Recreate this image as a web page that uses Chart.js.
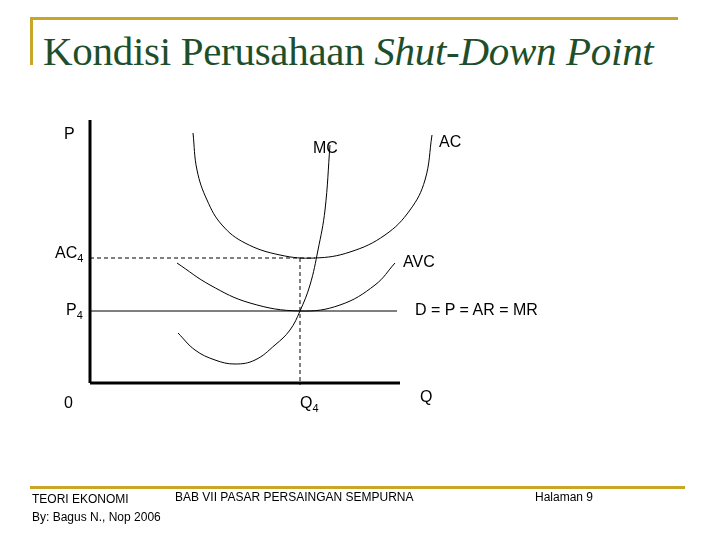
<!DOCTYPE html>
<html><head><meta charset="utf-8">
<script src="https://cdn.jsdelivr.net/npm/chart.js@4/dist/chart.umd.min.js"></script>
<style>
body{margin:0;width:720px;height:540px;overflow:hidden;background:#fff;position:relative;font-family:"Liberation Sans",Arial,sans-serif}
#c{position:absolute;left:0;top:0}
.t{position:absolute;font-size:16px;color:#000;white-space:nowrap}
.g{position:absolute;background:#c8a628}
</style></head><body>
<div class="g" style="left:30px;top:17px;width:648px;height:3px"></div>
<div class="g" style="left:30px;top:17px;width:3px;height:48px"></div>
<div class="g" style="left:30px;top:486px;width:655px;height:3px"></div>
<div style="position:absolute;left:43px;top:27px;font-family:'Liberation Serif',serif;font-size:41px;color:#1e4f2a;white-space:nowrap;letter-spacing:-0.3px">Kondisi Perusahaan <i>Shut-Down Point</i></div>
<canvas id="c" width="720" height="540"></canvas>
<div class="t" style="left:64px;top:125px">P</div>
<div class="t" style="left:313px;top:139px">MC</div>
<div class="t" style="left:439px;top:133px">AC</div>
<div class="t" style="left:55px;top:244px">AC<sub style="font-size:11px">4</sub></div>
<div class="t" style="left:403px;top:253px">AVC</div>
<div class="t" style="left:66px;top:301px">P<sub style="font-size:11px">4</sub></div>
<div class="t" style="left:415px;top:301px">D = P = AR = MR</div>
<div class="t" style="left:64px;top:394px">0</div>
<div class="t" style="left:300px;top:394px">Q<sub style="font-size:11px">4</sub></div>
<div class="t" style="left:420px;top:388px">Q</div>
<div class="t" style="left:32px;top:490px;font-size:12px;line-height:18px">TEORI EKONOMI<br>By: Bagus N., Nop 2006</div>
<div class="t" style="left:175px;top:490px;font-size:12px">BAB VII PASAR PERSAINGAN SEMPURNA</div>
<div class="t" style="left:535px;top:490px;font-size:12px">Halaman 9</div>
<script>
const acCurve=[[103,250],[107,213],[117,183],[132,158],[155,140],[190,128],[225,125],[260,131],[295,148],[320,173],[335,203],[342,248]];
const avcCurve=[[87,120],[120,98],[160,80],[210,72],[250,78],[285,98],[305,120]];
const mcCurve=[[88,50],[105,33],[125,23],[145,19],[165,23],[185,38],[200,53],[210,72],[220,98],[228,133],[235,173],[240,238]];
const priceLine=[[0,72],[307,72]];
const ac4Line=[[0,125],[225,125]];
const q4Line=[[210,125],[210,-2]];
const yAxis=[[0,263],[0,0]];
const xAxis=[[0,0],[310,0]];
const pts=a=>a.map(p=>({x:p[0],y:p[1]}));
const ds=(d,o)=>Object.assign({data:pts(d),borderColor:'#000',borderWidth:1,pointRadius:0,fill:false,tension:0},o);
new Chart(document.getElementById('c'),{type:'line',data:{datasets:[
ds(acCurve,{tension:0.4}),
ds(avcCurve,{tension:0.4}),
ds(mcCurve,{tension:0.4}),
ds(priceLine),
ds(ac4Line,{borderDash:[4,3]}),
ds(q4Line,{borderDash:[4,3]}),
ds(yAxis,{borderWidth:3}),
ds(xAxis,{borderWidth:3})]},
options:{responsive:false,animation:false,layout:{padding:0},
plugins:{legend:{display:false},tooltip:{enabled:false}},
scales:{x:{type:'linear',min:-90,max:630,display:false},y:{type:'linear',min:-157,max:383,display:false}}}});
</script></body></html>
